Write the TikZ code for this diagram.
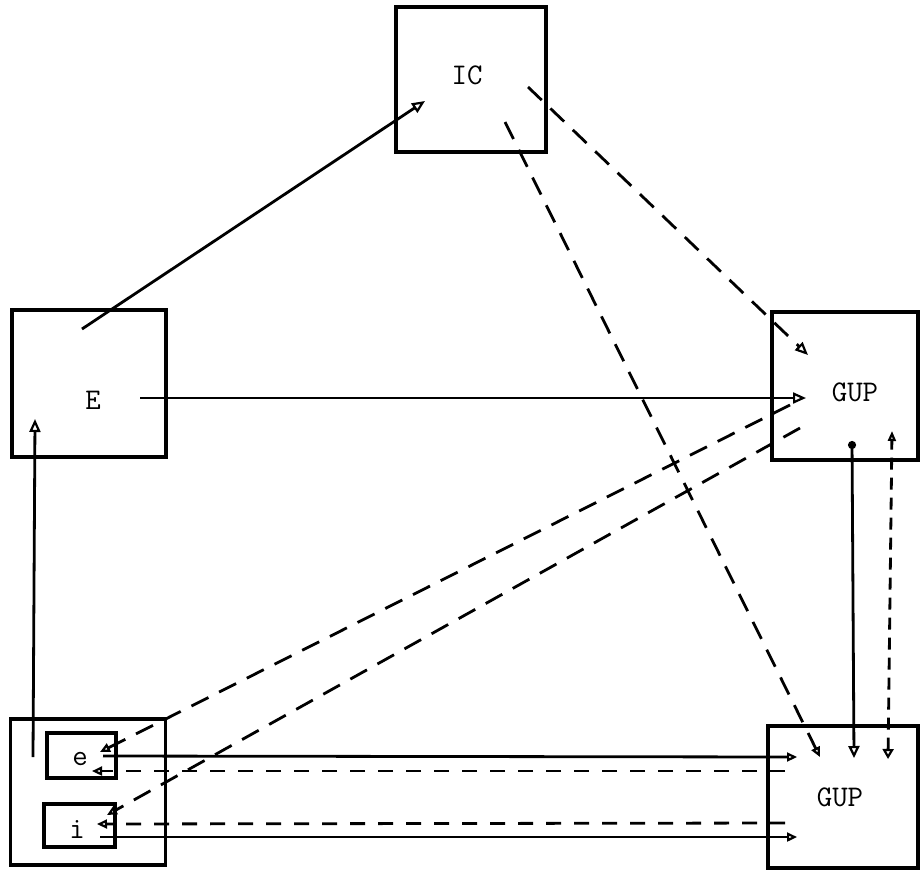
\documentclass[tikz,border=0pt]{standalone}
\usetikzlibrary{arrows.meta}
\begin{document}
\begin{tikzpicture}[x=1pt,y=-1pt,
  box/.style={draw,line width=3.2pt,minimum width=#1,inner sep=0pt},
  conn/.style={line width=2.8pt},
  dsh/.style={conn,dash pattern=on 19pt off 12pt},
  dshh/.style={conn,dash pattern=on 15pt off 13pt},
  dshv/.style={conn,dash pattern=on 12pt off 8pt},
  tip/.style={-{Triangle[open,length=13pt,width=11pt,line width=2.2pt]}},
  stip/.style={-{Triangle[open,length=10pt,width=9pt,line width=2.2pt]}},
  lbl/.style={font=\ttfamily\fontsize{30}{35}\selectfont}]
\useasboundingbox (0,0) rectangle (920,873);
% boxes
\node[box=150pt,minimum height=145pt] (IC) at (471,79.5) {};
\node[lbl] (ICt) at (467,75) {IC};
\node[box=154pt,minimum height=147pt] (E) at (89,383.5) {};
\node[lbl] (Et) at (93,400) {E};
\node[box=146pt,minimum height=148pt] (G1) at (845,386) {};
\node[lbl] (G1t) at (855,392) {GUP};
\node[box=150pt,minimum height=142pt] (G2) at (843,797) {};
\node[lbl] (G2t) at (840,797) {GUP};
\node[box=155pt,minimum height=146pt] (B) at (88,792) {};
\node[box=69pt,minimum height=45pt] (eb) at (81.5,755.5) {};
\node[lbl] (ebt) at (80,759) {e};
\node[box=71pt,minimum height=43pt] (ib) at (79.5,825.5) {};
\node[lbl] (ibt) at (77,829) {i};
% endpoints
\coordinate (Es1) at (82,329);
\coordinate (ICe1) at (425,101);
\coordinate (Es2) at (140,398);
\coordinate (G1e2) at (806,398);
\coordinate (ICs3) at (528,87);
\coordinate (G1e3) at (808,355);
\coordinate (ICs4) at (505,122);
\coordinate (G2e4) at (820,757);
\coordinate (Bs5) at (33,757);
\coordinate (Ee5) at (35,419);
\coordinate (G1s6) at (852,441);
\coordinate (G2e6) at (854,758);
\coordinate (G2s7) at (888,759);
\coordinate (G1e7) at (892,431);
\coordinate (G1s8) at (790,405);
\coordinate (ebe8) at (100,752);
\coordinate (G1s9) at (800,428);
\coordinate (ibe9) at (107,815);
\coordinate (ebs10) at (103,756);
\coordinate (G2e10) at (797,757);
\coordinate (G2s11) at (785,771);
\coordinate (ebe11) at (92,771);
\coordinate (G2s12) at (785,823);
\coordinate (ibe12) at (97,824);
\coordinate (ibs13) at (100,837);
\coordinate (G2e13) at (797,837);
% connectors
\draw[conn,tip] (Es1) -- (ICe1);
\draw[conn,tip] (Es2) -- (G1e2);
\draw[dsh,tip] (ICs3) -- (G1e3);
\draw[dsh,stip] (ICs4) -- (G2e4);
\draw[conn,tip] (Bs5) -- (Ee5);
\draw[conn,{Circle[length=8pt]}-{Triangle[open,length=12pt,width=11pt,line width=2.2pt]}] (G1s6) -- (G2e6);
\draw[dshv,{Triangle[open,length=10pt,width=11pt,line width=2.2pt]}-{Triangle[open,length=10pt,width=8pt,line width=2.2pt]}] (G2s7) -- (G1e7);
\draw[dsh,stip] (G1s8) -- (ebe8);
\draw[dsh,stip] (G1s9) -- (ibe9);
\draw[conn,stip] (ebs10) -- (G2e10);
\draw[dshh,stip] (G2s11) -- (ebe11);
\draw[dshh,stip] (G2s12) -- (ibe12);
\draw[conn,stip] (ibs13) -- (G2e13);
\end{tikzpicture}
\end{document}
